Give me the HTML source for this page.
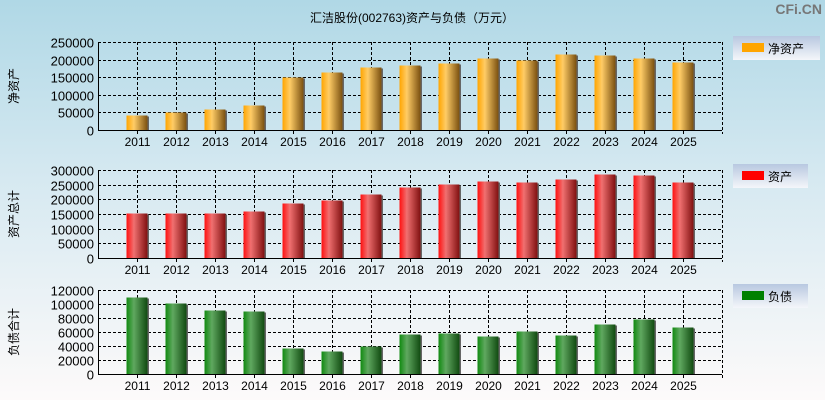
<!DOCTYPE html>
<html><head><meta charset="utf-8">
<style>
html,body{margin:0;padding:0;width:825px;height:400px;overflow:hidden;}
html{background:#fdfafa;}
body{background:linear-gradient(#b0d8e6,#d6e9f1 45%,#fdfafa);font-family:"Liberation Sans","Noto Sans CJK SC",sans-serif;}
svg{display:block;}
svg text{font-family:"Liberation Sans","Noto Sans CJK SC",sans-serif;}
</style></head>
<body>
<svg id="c" width="825" height="400">
<defs>
<linearGradient id="gO" x1="0" x2="1"><stop offset="0" stop-color="#ffa500"/><stop offset="0.35" stop-color="#ffcc66"/><stop offset="1" stop-color="#7a5010"/></linearGradient>
<linearGradient id="gR" x1="0" x2="1"><stop offset="0" stop-color="#ff1010"/><stop offset="0.35" stop-color="#f07070"/><stop offset="1" stop-color="#801010"/></linearGradient>
<linearGradient id="gG" x1="0" x2="1"><stop offset="0" stop-color="#108a10"/><stop offset="0.35" stop-color="#60a860"/><stop offset="1" stop-color="#104a10"/></linearGradient>
<linearGradient id="gL" x1="0" x2="0" y1="0" y2="1"><stop offset="0" stop-color="#b8c8e0"/><stop offset="1" stop-color="#f4f6fa"/></linearGradient>
</defs>
<text x="412" y="22" text-anchor="middle" font-size="12" fill="#000">汇洁股份(002763)资产与负债（万元）</text>
<text x="822" y="14" text-anchor="end" font-size="14" font-weight="bold" fill="#777">CFi.CN</text>
</svg>
<script>
const years=["2011","2012","2013","2014","2015","2016","2017","2018","2019","2020","2021","2022","2023","2024","2025"];
const netAssets=[43000,51000,60000,71000,150000,165000,179000,185000,190000,205000,199000,216000,213000,205000,194000];
const totalAssets=[154000,154000,154000,161000,188000,199000,218000,242000,252000,263000,259000,269000,286000,283000,259000];
const liabilities=[110000,101500,91500,90000,37500,33000,40000,57000,59000,54500,61500,56000,71500,79000,67000];
const ticks1=[0,50000,100000,150000,200000,250000];
const ticks2=[0,50000,100000,150000,200000,250000,300000];
const ticks3=[0,20000,40000,60000,80000,100000,120000];
const svg=document.getElementById('c');
const NS='http://www.w3.org/2000/svg';
function mk(t,a){const e=document.createElementNS(NS,t);for(const k in a)e.setAttribute(k,a[k]);svg.appendChild(e);return e;}
const L=98,R=722,step=39;
function xPos(i){return L+step*(i+1);}
function dash(x1,y1,x2,y2){return mk('line',{x1:x1,x2:x2,y1:y1,y2:y2,stroke:'#000','stroke-dasharray':'3,2','shape-rendering':'crispEdges'});}
function panel(key,top,bot,vals,ticks,grad,ylab,leg,legColor,legW){
  const max=ticks[ticks.length-1];
  const y=v=>Math.round(bot-(v/max)*(bot-top))+0.5;
  ticks.forEach(t=>{
    if(t>0){const g=dash(L,y(t),R,y(t));
    
    }
    const tx=mk('text',{x:L-4,y:y(t)+5,'text-anchor':'end','font-size':13,fill:'#000'});
    tx.textContent=t;
    
    
  });
  years.forEach((yr,i)=>{
    const x=xPos(i)+0.5;
    const g=dash(x,top,x,bot);
    
    
    mk('line',{x1:x,x2:x,y1:bot,y2:bot+4,stroke:'#000','shape-rendering':'crispEdges'});
    const b=mk('rect',{x:x-11,y:y(vals[i]),width:21,height:bot-y(vals[i]),fill:'url(#'+grad+')'});
    
    
    mk('rect',{x:x+10,y:y(vals[i])+1,width:1.5,height:bot-y(vals[i])-1,fill:'#666'});
    const tx=mk('text',{x:x,y:bot+16,'text-anchor':'middle','font-size':12,fill:'#000'});
    tx.textContent=yr;
    
    
  });
  dash(L,top+0.5,R,top+0.5);
  dash(R+0.5,top,R+0.5,bot+4);
  const ax=mk('line',{x1:L+0.5,x2:L+0.5,y1:top,y2:bot,stroke:'#000','shape-rendering':'crispEdges'});
  
  
  const ax2=mk('line',{x1:L,x2:R,y1:bot+0.5,y2:bot+0.5,stroke:'#000','shape-rendering':'crispEdges'});
  
  
  const yl=mk('text',{x:0,y:0,'text-anchor':'middle','font-size':12,fill:'#000',transform:'translate(18,'+((top+bot)/2)+') rotate(-90)'});
  yl.textContent=ylab;
  
  
  const lb=mk('rect',{x:733,y:top-6,width:legW,height:24,fill:'url(#gL)'});
  
  
  mk('rect',{x:742,y:top+1,width:22,height:9,fill:legColor});
  const lt=mk('text',{x:768,y:top+11,'font-size':12,fill:'#000'});
  lt.textContent=leg;
  
  
}
panel('net-assets',42,130,netAssets,ticks1,'gO','净资产','净资产','#ffa500',87);
panel('total-assets',170,258,totalAssets,ticks2,'gR','资产总计','资产','#ff0000',75);
panel('liabilities',290,374,liabilities,ticks3,'gG','负债合计','负债','#008000',75);
</script>
</body></html>
